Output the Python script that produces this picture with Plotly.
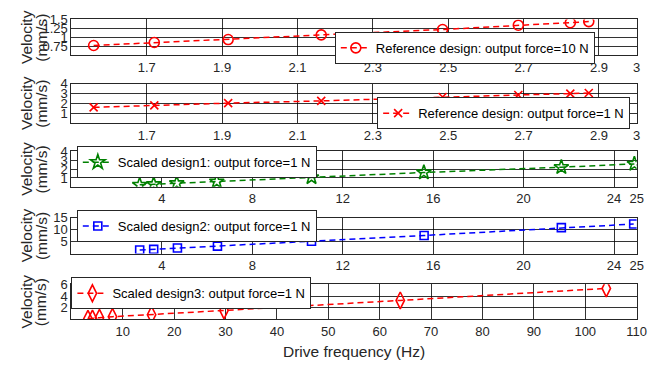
import plotly.graph_objects as go

# ---- data ----
ref_freq = [1.559, 1.72, 1.916, 2.163, 2.485, 2.686, 2.824, 2.873]
ref_vel_10N = [0.775, 0.858, 0.94, 1.07, 1.22, 1.34, 1.41, 1.44]
ref_vel_1N = [1.6, 1.8, 2.03, 2.26, 2.66, 2.86, 3.0, 3.06]
s1_freq = [3.02, 3.64, 4.66, 6.43, 10.62, 15.59, 21.67, 24.9]
s1_vel = [0.22, 0.29, 0.4, 0.59, 1.07, 1.62, 2.22, 2.59]
s2_freq = [3.02, 3.64, 4.69, 6.46, 10.62, 15.6, 21.67, 24.87]
s2_vel = [1.48, 1.76, 2.3, 3.1, 5.16, 7.6, 10.9, 12.4]
s3_freq = [3.22, 4.1, 5.46, 8.0, 15.6, 29.7, 64.0, 104.1]
s3_vel = [0.13, 0.15, 0.3, 0.47, 0.8, 1.53, 3.25, 5.3]

names = ["Reference design: output force=10 N",
         "Reference design: output force=1 N",
         "Scaled design1: output force=1 N",
         "Scaled design2: output force=1 N",
         "Scaled design3: output force=1 N"]

xticks_ref = [1.7, 1.9, 2.1, 2.3, 2.5, 2.7, 2.9, 3]
xticks_s12 = [4, 8, 12, 16, 20, 24, 25]
xticks_s3 = [10, 20, 30, 40, 50, 60, 70, 80, 90, 100, 110]
yticks = [[0.75, 1, 1.25, 1.5], [1, 2, 3, 4], [1, 2, 3, 4], [5, 10, 15], [2, 4, 6]]
xranges = [[1.5, 3], [1.5, 3], [0, 25], [0, 25], [0, 110]]
yranges = [[0.5, 1.5], [0, 4], [0, 4], [0, 15], [0, 6]]
xtickss = [xticks_ref, xticks_ref, xticks_s12, xticks_s12, xticks_s3]

W, H = 655, 367
FONT = "Liberation Sans, Arial, sans-serif"
TXT = "#262626"

# pixel layout
x_left, x_right = 72.5, 646.5
rows_px = [(12.7, 49.3), (78.3, 118.3), (147.3, 183.3), (215.0, 251.3), (282.7, 318.5)]

series = [
    (ref_freq, ref_vel_10N, "red", "circle-open", 10),
    (ref_freq, ref_vel_1N, "red", "x-thin-open", 8),
    (s1_freq, s1_vel, "green", "star-open", 11),
    (s2_freq, s2_vel, "blue", "square-open", 8),
    (s3_freq, s3_vel, "red", "diamond-tall-open", 12),
]

fig = go.Figure()
for i, (xs, ys, col, sym, sz) in enumerate(series):
    k = "" if i == 0 else str(i + 1)
    fig.add_trace(go.Scatter(
        x=xs, y=ys, mode="lines+markers", name=names[i],
        xaxis="x" + k, yaxis="y" + k, legend="legend" + k,
        line=dict(color=col, width=1.5, dash="6px,4px"),
        marker=dict(symbol=sym, size=sz, color=col, line=dict(color=col, width=1.6)),
    ))

# (box left px, box vertical centre px)
legend_pos = [(340, 41.7), (383, 108.3), (78, 158.2), (78, 223.3), (72.5, 291.9)]

layout = dict(width=W, height=H, margin=dict(l=0, r=0, t=0, b=0),
              paper_bgcolor="white", plot_bgcolor="white",
              font=dict(family=FONT, size=13, color=TXT))
annotations = []
for i in range(5):
    k = "" if i == 0 else str(i + 1)
    top, bot = rows_px[i]
    dom_y = [1 - bot / H, 1 - top / H]
    layout["xaxis" + k] = dict(
        domain=[x_left / W, x_right / W], anchor="y" + k, range=xranges[i],
        tickvals=xtickss[i], ticktext=[str(v) for v in xtickss[i]],
        showgrid=True, gridcolor="rgba(0,0,0,0.8)", gridwidth=1,
        showline=True, linecolor="#262626", linewidth=1, mirror=True,
        zeroline=False, ticks="", tickfont=dict(size=13, color=TXT, family=FONT))
    layout["yaxis" + k] = dict(
        domain=dom_y, anchor="x" + k, range=yranges[i],
        tickvals=yticks[i], ticktext=[str(v) for v in yticks[i]],
        showgrid=True, gridcolor="rgba(0,0,0,0.8)", gridwidth=1,
        showline=True, linecolor="#262626", linewidth=1, mirror=True,
        zeroline=False, ticks="", tickfont=dict(size=13, color=TXT, family=FONT))
    lx, ly = legend_pos[i]
    layout["legend" + k] = dict(
        x=lx / W, y=1 - ly / H, xanchor="left", yanchor="middle",
        bgcolor="white", bordercolor="#262626", borderwidth=1,
        font=dict(size=13, color="black", family=FONT), itemwidth=30)
    yc = 1 - (top + bot) / 2 / H
    annotations.append(dict(text="Velocity", x=27 / W, y=yc, xref="paper", yref="paper",
                            textangle=-90, showarrow=False, xanchor="center", yanchor="middle",
                            font=dict(size=15.5, color=TXT, family=FONT)))
    annotations.append(dict(text="(mm/s)", x=42 / W, y=yc, xref="paper", yref="paper",
                            textangle=-90, showarrow=False, xanchor="center", yanchor="middle",
                            font=dict(size=15.5, color=TXT, family=FONT)))

annotations.append(dict(text="Drive frequency (Hz)", x=359.5 / W, y=1 - 351.7 / H,
                        xref="paper", yref="paper", showarrow=False,
                        xanchor="center", yanchor="middle",
                        font=dict(size=15.5, color=TXT, family=FONT)))
layout["annotations"] = annotations
layout["showlegend"] = True
fig.update_layout(**layout)
fig.write_html("out.html", config={"displayModeBar": False},
               post_script="document.body.style.margin='0';document.body.style.overflow='hidden';")
